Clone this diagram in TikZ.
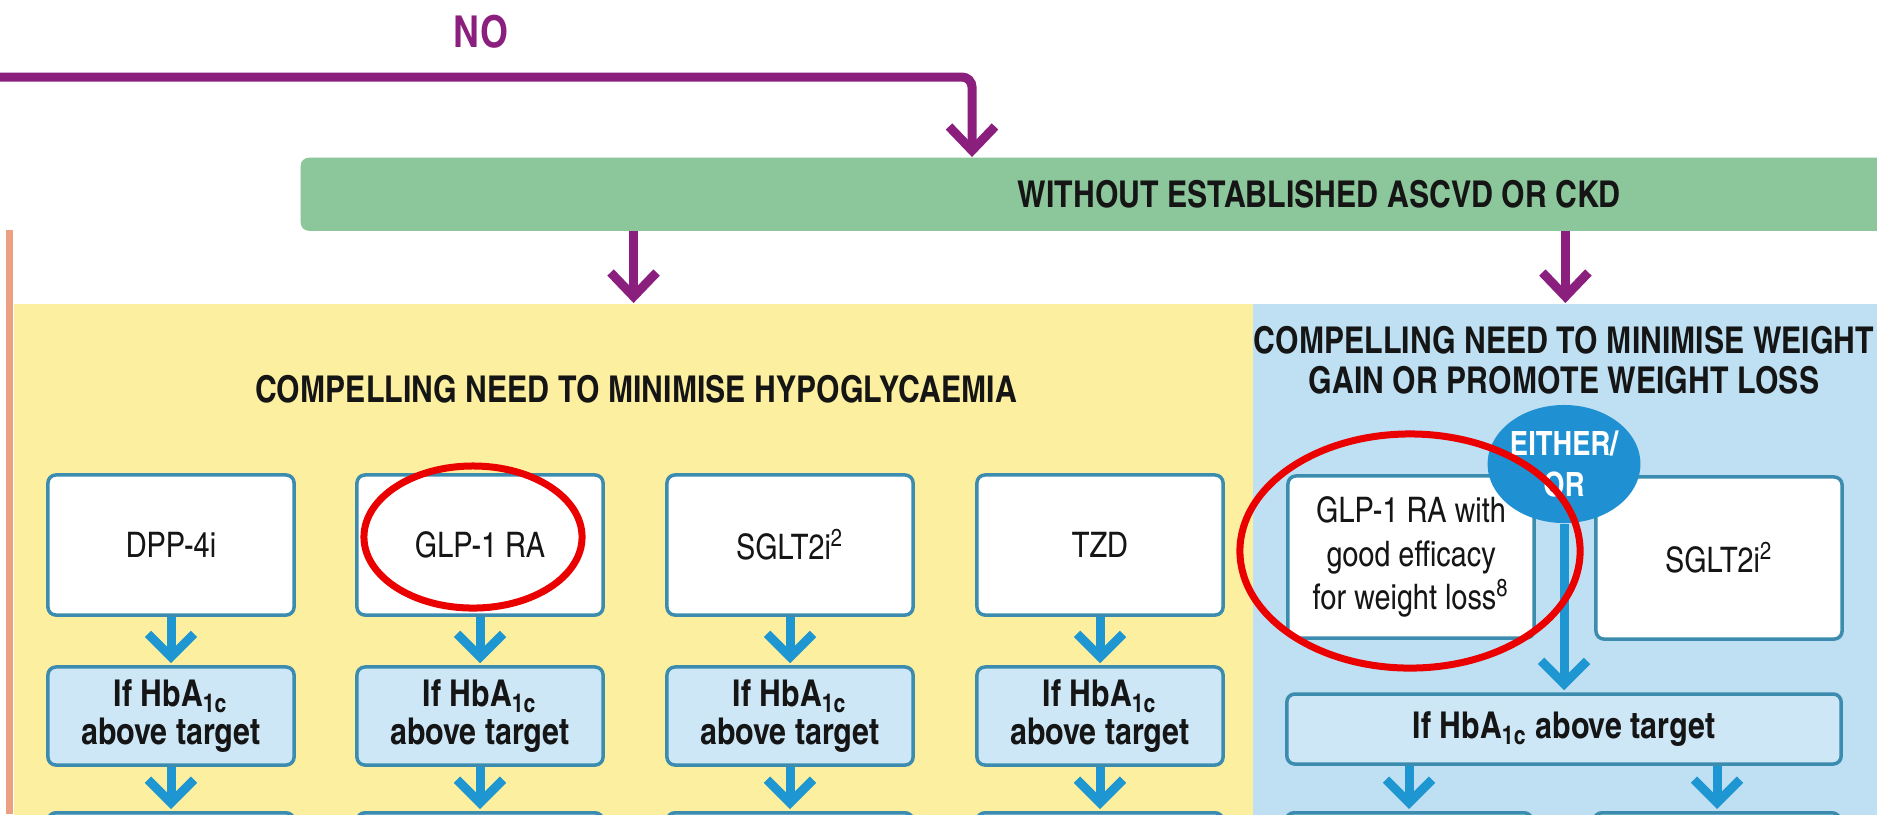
\documentclass[tikz,border=0pt]{standalone}
\usepackage{fontspec}
\setmainfont{texgyreheroscn-regular.otf}[BoldFont=texgyreheroscn-bold.otf]
\usetikzlibrary{arrows.meta,positioning,shapes.geometric}
\definecolor{nopurple}{HTML}{8B1F7E}
\definecolor{bargreen}{HTML}{8CC69B}
\definecolor{hypoyellow}{HTML}{FCF0A0}
\definecolor{weightblue}{HTML}{BEE0F2}
\definecolor{hbafill}{HTML}{CDE7F6}
\definecolor{boxedge}{HTML}{3C8CAF}
\definecolor{flowblue}{HTML}{1E96D2}
\definecolor{circleblue}{HTML}{1F91D2}
\definecolor{salmon}{HTML}{EBA082}
\definecolor{ringred}{HTML}{EB0000}
\definecolor{textblack}{HTML}{151515}
\newcommand{\headfont}{\fontsize{10.5pt}{11.4pt}\selectfont\bfseries}
\newcommand{\drugfont}{\fontsize{10pt}{12.4pt}\selectfont}
\newcommand{\hbafont}{\fontsize{10.5pt}{10.8pt}\selectfont\bfseries}
\newcommand{\nofont}{\fontsize{12.5pt}{14pt}\selectfont\bfseries}
\newcommand{\eitherfont}{\fontsize{9.5pt}{11.7pt}\selectfont\bfseries}
\tikzset{
  noline/.style={draw=nopurple, line width=0.09cm, rounded corners=0.1cm},
  noarrow/.style={noline, -{Straight Barb[length=0.24cm, width=0.46cm]}},
  flowarrow/.style={draw=flowblue, line width=0.09cm, -{Straight Barb[length=0.23cm, width=0.46cm]}, shorten >=0.02cm},
  panel/.style={anchor=north west, minimum height=5.3cm, inner sep=0pt},
  barbox/.style={fill=bargreen, rounded corners=0.08cm, anchor=north west, minimum width=20.36cm, minimum height=0.73cm, inner sep=0pt, font=\headfont, text=textblack},
  heading/.style={font=\headfont, align=center, text=textblack},
  notext/.style={font=\nofont, text=nopurple},
  drugbox/.style={draw=boxedge, line width=0.035cm, fill=white, rounded corners=0.08cm, minimum width=2.46cm, minimum height=1.4cm, inner sep=0pt, align=center, font=\drugfont, text=textblack},
  hbabox/.style={drugbox, fill=hbafill, minimum height=0.98cm, font=\hbafont},
  nextbox/.style={drugbox, fill=hbafill, anchor=north, minimum height=1cm},
  eitheror/.style={ellipse, fill=circleblue, text=white, minimum width=1.42cm, minimum height=1.18cm, inner sep=0pt, align=center, font=\eitherfont},
  markring/.style={draw=ringred, line width=0.07cm}
}
\begin{document}
\begin{tikzpicture}[x=0.01cm, y=-0.01cm]
  \clip (0,0) rectangle (1877,814);
  \fill[white] (0,0) rectangle (1877,814);
  % panels
  \node[panel, fill=hypoyellow, minimum width=12.39cm] (hypo) at (13,303) {};
  \node[panel, fill=weightblue, minimum width=6.25cm] (weight) at (1252,303) {};
  \fill[salmon] (6,230) rectangle (13,814);
  % NO branch
  \node[notext] (no) at (481,32) {NO};
  \coordinate (nostart) at (0,77);
  \coordinate (nobend) at (972,77);
  \node[barbox] (withoutbar) at (300,157) {WITHOUT ESTABLISHED ASCVD OR CKD};
  \draw[noarrow] (nostart) -| (withoutbar.north -| nobend);
  \draw[noarrow] (withoutbar.south -| hypo.north) -- (hypo.north);
  \draw[noarrow] (withoutbar.south -| weight.north) -- (weight.north);
  \node[heading] (hypohead) at (636,389) {COMPELLING NEED TO MINIMISE HYPOGLYCAEMIA};
  \node[heading] (weighthead) at (1564,360) {COMPELLING NEED TO MINIMISE WEIGHT\\GAIN OR PROMOTE WEIGHT LOSS};
  % hypoglycaemia columns
  \foreach \x/\n/\t in {171/dpp/DPP-4i, 480/glp/GLP-1 RA, 790/sglt/SGLT2i\textsuperscript{2}, 1100/tzd/TZD}{
    \node[drugbox] (\n) at (\x,545) {\t};
    \node[hbabox] (\n-hba) at (\x,716) {If HbA\textsubscript{1c}\\above target};
    \node[nextbox] (\n-next) at (\x,811) {};
    \draw[flowarrow] (\n) -- (\n-hba);
    \draw[flowarrow] (\n-hba) -- (\n-next);
  }
  % weight columns
  \node[drugbox, minimum height=1.62cm] (glpw) at (1411,557) {GLP-1 RA with\\good efficacy\\for weight loss\textsuperscript{8}};
  \node[drugbox, minimum height=1.62cm] (sgltw) at (1719,558) {SGLT2i\textsuperscript{2}};
  \node[hbabox, minimum width=5.54cm, minimum height=0.7cm] (wide-hba) at (1564,729) {If HbA\textsubscript{1c} above target};
  \node[nextbox] (glpw-next) at (1409,811) {};
  \node[nextbox] (sgltw-next) at (1717,811) {};
  \draw[flowarrow] (wide-hba.south -| glpw-next.north) -- (glpw-next.north);
  \draw[flowarrow] (wide-hba.south -| sgltw-next.north) -- (sgltw-next.north);
  \node[eitheror] (either) at (1564,464) {EITHER/\\OR};
  \draw[flowarrow] (either.south) -- (wide-hba.north);
  % red marks
  \draw[markring] (473,537) ellipse [x radius=1.09cm, y radius=0.71cm];
  \draw[markring] (1410,551) ellipse [x radius=1.7cm, y radius=1.17cm];
\end{tikzpicture}
\end{document}
